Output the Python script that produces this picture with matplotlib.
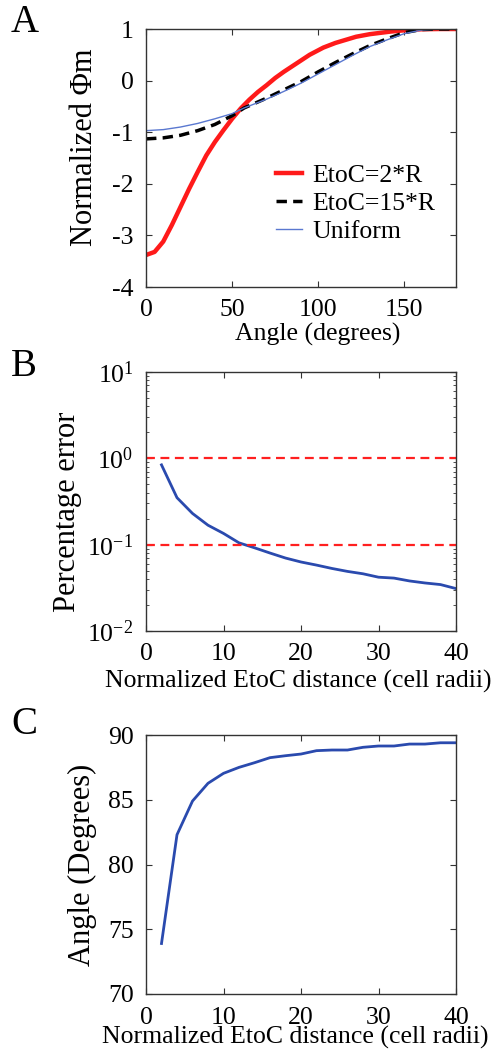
import matplotlib
matplotlib.use("Agg")
import matplotlib.pyplot as plt
from matplotlib.ticker import FixedLocator, LogLocator, NullFormatter

plt.rcParams['font.family'] = ['Liberation Serif', 'DejaVu Serif']
plt.rcParams['mathtext.fontset'] = 'custom'
plt.rcParams['mathtext.rm'] = 'Liberation Serif'
plt.rcParams['mathtext.it'] = 'Liberation Serif:italic'
plt.rcParams['axes.unicode_minus'] = False

# ---------------- Panel A data ----------------
red_angle = [0, 5, 10, 15, 20, 25, 30, 35, 40, 45, 50, 55, 60, 65, 70, 75, 80, 85, 90,
             95, 103, 110, 122, 130, 142, 150, 160, 170, 180]
red_phi = [-3.38, -3.32, -3.12, -2.8, -2.45, -2.1, -1.77, -1.45, -1.19, -0.96, -0.74, -0.54,
           -0.37, -0.22, -0.09, 0.05, 0.17, 0.28, 0.39, 0.5, 0.64, 0.73, 0.85, 0.9, 0.95,
           0.975, 0.995, 1.0, 1.0]
black_angle = [0, 10, 20, 30, 40, 50, 57, 70, 80, 90, 100, 110, 120, 130, 140, 150, 160, 170, 180]
black_phi = [-1.13, -1.11, -1.06, -0.97, -0.85, -0.68, -0.53, -0.34, -0.18, -0.02, 0.17, 0.35,
             0.52, 0.68, 0.81, 0.93, 0.99, 1.0, 1.0]
blue_angle = [0, 10, 20, 30, 40, 50, 57, 70, 80, 90, 100, 110, 120, 130, 140, 150, 160, 170, 180]
blue_phi = [-0.97, -0.95, -0.9, -0.83, -0.74, -0.64, -0.53, -0.36, -0.21, -0.05, 0.13, 0.31,
            0.49, 0.66, 0.79, 0.91, 0.98, 1.0, 1.0]

# ---------------- Panel B / C data ----------------
etoc = [2, 4, 6, 8, 10, 12, 14, 16, 18, 20, 22, 24, 26, 28, 30, 32, 34, 36, 38, 40]
pct_error = [0.84, 0.35, 0.23, 0.168, 0.135, 0.105, 0.092, 0.08, 0.07, 0.063, 0.058, 0.053,
             0.049, 0.046, 0.042, 0.041, 0.038, 0.036, 0.0345, 0.031]
thresholds = [1.0, 0.1]
angle_deg = [73.9, 82.3, 84.9, 86.27, 87.04, 87.5, 87.86, 88.25, 88.4, 88.53, 88.79, 88.84,
             88.84, 89.05, 89.15, 89.15, 89.3, 89.3, 89.4, 89.4]

W, H = 492, 1053
fig = plt.figure(figsize=(W / 100, H / 100), dpi=100)

def axes_px(left, top, right, bottom):
    return fig.add_axes([left / W, 1 - bottom / H, (right - left) / W, (bottom - top) / H])

axA = axes_px(146, 29, 456, 287)
axB = axes_px(146, 372, 456, 631)
axC = axes_px(146, 735, 456, 994)

TFS = 18.5   # tick labels
XFS = 18.5   # x labels
YFS = 22     # y labels
blue_dark = '#2a4aae'
spine_col = '#333333'

def style(ax):
    for s in ax.spines.values():
        s.set_color(spine_col)
        s.set_linewidth(1.0)
    ax.tick_params(which='both', direction='in', top=True, right=True,
                   labelsize=TFS, color=spine_col, pad=9)
    ax.tick_params(which='major', length=4)
    ax.tick_params(which='minor', length=2)

# Panel A
axA.plot(red_angle, red_phi, color='#ff1a1a', lw=3.2, label='EtoC=2*R')
axA.plot(black_angle, black_phi, color='black', lw=2.5, ls=(0, (3.0, 1.8)), label='EtoC=15*R')
axA.plot(blue_angle, blue_phi, color='#5a78d0', lw=1.0, label='Uniform')
axA.set_xlim(0, 180)
axA.set_ylim(-4, 1)
axA.xaxis.set_major_locator(FixedLocator([0, 50, 100, 150]))
axA.yaxis.set_major_locator(FixedLocator([-4, -3, -2, -1, 0, 1]))
style(axA)
axA.set_xlabel('Angle (degrees)', fontsize=XFS)
axA.set_ylabel('Normalized Φm', fontsize=YFS)
axA.xaxis.set_label_coords(0.555, -0.14)
axA.yaxis.set_label_coords(-0.152, 0.54)
leg = axA.legend(loc='upper left', bbox_to_anchor=((276 - 146) / 310, (287 - 164) / 258),
                 frameon=False, fontsize=XFS, handlelength=1.0, handletextpad=0.4,
                 labelspacing=0.2, borderaxespad=0.0, borderpad=0.0)

# Panel B
axB.plot(etoc, pct_error, color=blue_dark, lw=2.0)
for t in thresholds:
    axB.axhline(t, color='#ff2020', lw=1.6, ls=(0, (4, 2.5)))
axB.set_yscale('log')
axB.set_xlim(0, 40)
axB.set_ylim(1e-2, 1e1)
axB.xaxis.set_major_locator(FixedLocator([0, 10, 20, 30, 40]))
axB.yaxis.set_major_locator(FixedLocator([1e-2, 1e-1, 1e0, 1e1]))
axB.set_yticklabels([r'$\mathregular{10^{-2}}$', r'$\mathregular{10^{-1}}$',
                     r'$\mathregular{10^{0}}$', r'$\mathregular{10^{1}}$'])
axB.yaxis.set_minor_locator(LogLocator(base=10, subs=range(2, 10)))
axB.yaxis.set_minor_formatter(NullFormatter())
style(axB)
axB.set_xlabel('Normalized EtoC distance (cell radii)', fontsize=XFS)
axB.set_ylabel('Percentage error', fontsize=YFS)
axB.xaxis.set_label_coords(0.49, -0.15)
axB.yaxis.set_label_coords(-0.206, 0.46)

# Panel C
axC.plot(etoc, angle_deg, color=blue_dark, lw=2.0)
axC.set_xlim(0, 40)
axC.set_ylim(70, 90)
axC.xaxis.set_major_locator(FixedLocator([0, 10, 20, 30, 40]))
axC.yaxis.set_major_locator(FixedLocator([70, 75, 80, 85, 90]))
style(axC)
axC.set_xlabel('Normalized EtoC distance (cell radii)', fontsize=XFS)
axC.set_ylabel('Angle (Degrees)', fontsize=YFS)
axC.xaxis.set_label_coords(0.48, -0.125)
axC.yaxis.set_label_coords(-0.158, 0.50)

for letter, yc in [('A', 22), ('B', 367), ('C', 725)]:
    fig.text(11 / W, 1 - yc / H, letter, fontsize=28, ha='left', va='center')

fig.savefig('out.png', dpi=100)
